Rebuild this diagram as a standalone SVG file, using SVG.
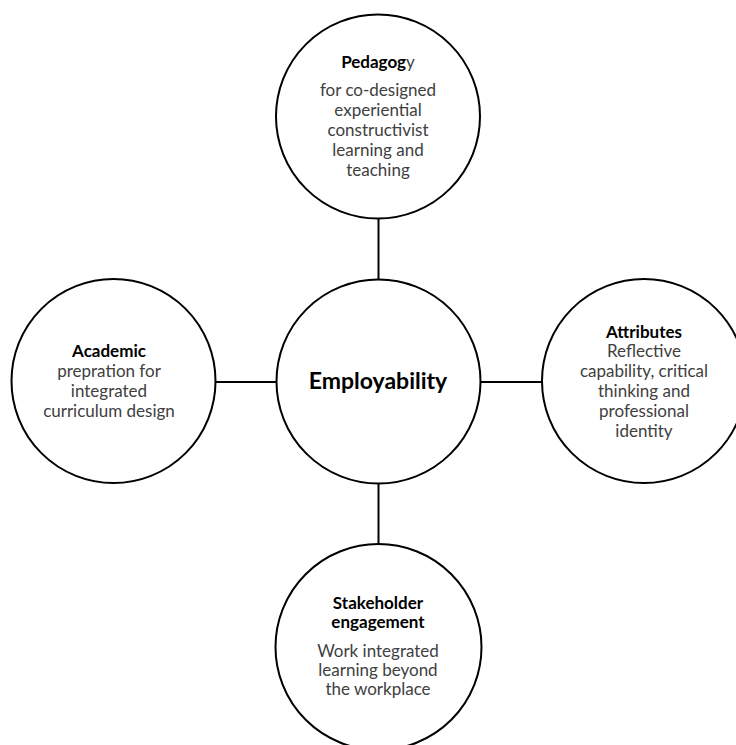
<svg xmlns="http://www.w3.org/2000/svg" width="736" height="745" viewBox="0 0 736 745">
<style>
.c{fill:#fff;stroke:#000;stroke-width:2}
.l{stroke:#000;stroke-width:2;fill:none}
text{font-family:Lato,"Open Sans","Liberation Sans",sans-serif;font-size:17px;text-anchor:middle;fill:#404040}
.b{font-weight:bold;fill:#000}
.big{font-size:23px;font-weight:bold;fill:#000}
</style>
<rect width="736" height="745" fill="#fff"/>
<g id="connectors">
<line class="l" x1="378.5" y1="218" x2="378.5" y2="280"/>
<line class="l" x1="378.5" y1="483" x2="378.5" y2="545"/>
<line class="l" x1="215" y1="382" x2="277" y2="382"/>
<line class="l" x1="480" y1="382" x2="542" y2="382"/>
</g>
<g id="center">
<circle class="c" cx="378.5" cy="381.5" r="102"/>
<text class="big" x="378" y="389">Employability</text>
</g>
<g id="pedagogy">
<circle class="c" cx="378" cy="116.5" r="102"/>
<text x="378" y="68"><tspan class="b">Pedagog</tspan>y</text>
<text x="378" y="96">for co-designed</text>
<text x="378" y="116">experiential</text>
<text x="378" y="136">constructivist</text>
<text x="378" y="156">learning and</text>
<text x="378" y="176">teaching</text>
</g>
<g id="academic">
<circle class="c" cx="113.5" cy="381" r="102"/>
<text class="b" x="109" y="357">Academic</text>
<text x="109" y="377">prepration for</text>
<text x="109" y="397">integrated</text>
<text x="109" y="417">curriculum design</text>
</g>
<g id="attributes">
<circle class="c" cx="644" cy="381" r="102"/>
<text class="b" x="644" y="338">Attributes</text>
<text x="644" y="357">Reflective</text>
<text x="644" y="377">capability, critical</text>
<text x="644" y="397">thinking and</text>
<text x="644" y="417">professional</text>
<text x="644" y="437">identity</text>
</g>
<g id="stakeholder">
<circle class="c" cx="378.5" cy="647" r="103"/>
<text class="b" x="378" y="609">Stakeholder</text>
<text class="b" x="378" y="628">engagement</text>
<text x="378" y="657">Work integrated</text>
<text x="378" y="676">learning beyond</text>
<text x="378" y="695">the workplace</text>
</g>
</svg>
